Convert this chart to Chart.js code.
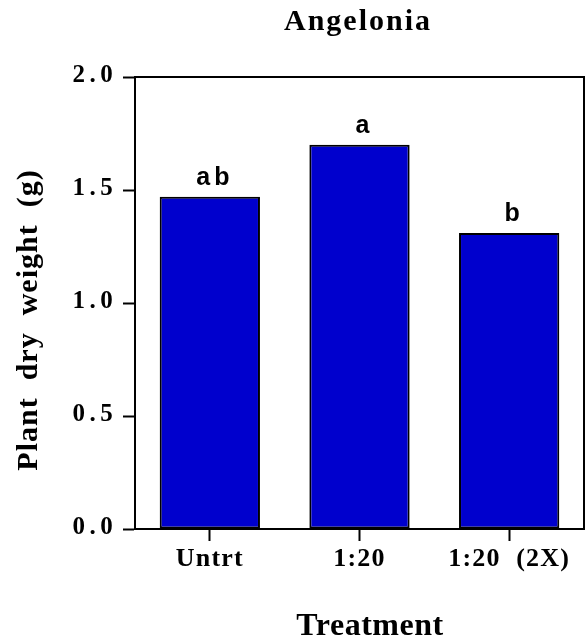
<!DOCTYPE html>
<html>
<head>
<meta charset="utf-8">
<script src="https://cdn.jsdelivr.net/npm/chart.js@4/dist/chart.umd.min.js"></script>
<style>
  body { margin: 0; background: #fff; }
  canvas { display: block; }
</style>
</head>
<body>
<canvas id="my_chart" width="586" height="641"></canvas>
<script>
const categories = ['Untrt', '1:20', '1:20  (2X)'];
const weights = [1.47, 1.70, 1.31];
const letters = ['ab', 'a', 'b'];
const yTickLabels = ['0.0', '0.5', '1.0', '1.5', '2.0'];

const serif = '"Liberation Serif", "Times New Roman", serif';
const sans = '"Liberation Sans", Arial, sans-serif';

// spacing + frame + texts that Chart.js can't place exactly
const extras = {
    id: 'extras',
    beforeDraw(chart) {
        chart.ctx.letterSpacing = '1.2px';
    },
    afterDraw(chart) {
        const ctx = chart.ctx;
        const a = chart.chartArea;
        ctx.save();
        ctx.strokeStyle = '#000';
        ctx.lineWidth = 2;
        ctx.beginPath();
        ctx.moveTo(a.left, a.top);
        ctx.lineTo(a.right, a.top);
        ctx.lineTo(a.right, a.bottom);
        ctx.stroke();

        ctx.fillStyle = '#000';
        ctx.textAlign = 'center';
        ctx.textBaseline = 'alphabetic';

        // letters above bars
        ctx.font = 'bold 25px ' + sans;
        ctx.letterSpacing = '4px';
        const bars = chart.getDatasetMeta(0).data;
        bars.forEach((bar, i) => {
            ctx.fillText(letters[i], bar.x + 5, bar.y - 12);
        });

        // title
        ctx.font = 'bold 30px ' + serif;
        ctx.letterSpacing = '2px';
        ctx.fillText('Angelonia', 358, 30);

        // x title
        ctx.font = 'bold 32px ' + serif;
        ctx.letterSpacing = '0.5px';
        ctx.fillText('Treatment', 370, 635);

        // y title
        ctx.font = 'bold 30px ' + serif;
        ctx.letterSpacing = '1px';
        ctx.translate(37, 320);
        ctx.rotate(-Math.PI / 2);
        ctx.fillText('Plant  dry  weight  (g)', 0, 0);
        ctx.restore();
    }
};

const config = {
    type: 'bar',
    data: {
        labels: categories,
        datasets: [{
            data: weights,
            backgroundColor: '#0000CD',
            borderColor: '#000',
            borderWidth: 2,
            borderSkipped: false,
            categoryPercentage: 1,
            barPercentage: 0.67
        }]
    },
    options: {
        responsive: false,
        devicePixelRatio: 1,
        animation: false,
        layout: { padding: { top: 77, right: 2, left: 0, bottom: 0 } },
        plugins: {
            legend: { display: false },
            tooltip: { enabled: false },
            title: { display: false }
        },
        scales: {
            x: {
                afterFit: (s) => { s.height = 112; },
                grid: {
                    offset: false,
                    drawOnChartArea: false,
                    drawTicks: true,
                    tickLength: 12,
                    tickWidth: 2,
                    tickColor: '#000'
                },
                border: { display: true, color: '#000', width: 2 },
                ticks: {
                    color: '#000',
                    padding: 3,
                    maxRotation: 0,
                    autoSkip: false,
                    font: { family: serif, size: 26, weight: 'bold' }
                }
            },
            y: {
                min: 0,
                max: 2,
                afterFit: (s) => { s.width = 135; },
                grid: {
                    drawOnChartArea: false,
                    drawTicks: true,
                    tickLength: 12,
                    tickWidth: 2,
                    tickColor: '#000'
                },
                border: { display: true, color: '#000', width: 2 },
                ticks: {
                    stepSize: 0.5,
                    color: '#000',
                    padding: 9,
                    labelOffset: -1,
                    font: { family: serif, size: 25, weight: 'bold' },
                    callback: (v, i) => yTickLabels[i].split('').join('\u200A')
                }
            }
        }
    },
    plugins: [extras]
};

const myChart = new Chart(document.getElementById('my_chart'), config);
</script>
</body>
</html>
